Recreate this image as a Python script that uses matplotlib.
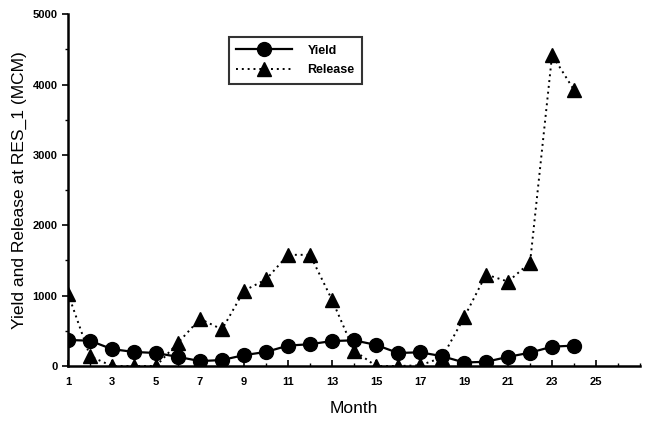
import matplotlib
matplotlib.use("Agg")
import matplotlib.pyplot as plt
from matplotlib.ticker import MultipleLocator

months = list(range(1, 25))
yield_vals = [370, 360, 240, 200, 185, 130, 70, 85, 155, 200, 290, 310,
              355, 365, 300, 185, 195, 140, 50, 60, 130, 190, 275, 290]
release_vals = [1030, 140, 0, 0, 0, 330, 670, 520, 1070, 1230, 1580, 1580,
                940, 220, 0, 0, 10, 120, 690, 1300, 1200, 1470, 4420, 3920]
xticks = list(range(1, 26, 2))
yticks = [0, 1000, 2000, 3000, 4000, 5000]

plt.rcParams['font.family'] = ['Liberation Sans', 'DejaVu Sans']

fig = plt.figure(figsize=(6.45, 4.26), dpi=100)
ax = fig.add_axes([0.1054, 0.1408, 0.887, 0.826])

ax.plot(months, yield_vals, color='black', linestyle='-', linewidth=1.6,
        marker='o', markersize=10, label='Yield', zorder=3)
ax.plot(months, release_vals, color='black', linestyle=(0, (1, 2)), linewidth=1.4,
        marker='^', markersize=10, label='Release', zorder=2)

ax.set_xlim(1, 27)
ax.set_ylim(0, 5000)
ax.set_xticks(xticks)
ax.set_yticks(yticks)
ax.xaxis.set_minor_locator(MultipleLocator(1))
ax.yaxis.set_minor_locator(MultipleLocator(500))

for s in ['top', 'right']:
    ax.spines[s].set_visible(False)
for s in ['left', 'bottom']:
    ax.spines[s].set_linewidth(1.8)

ax.tick_params(axis='both', which='major', labelsize=8, width=1.2, length=4)
ax.tick_params(axis='both', which='minor', width=1, length=2)
ax.tick_params(axis='x', which='both', direction='in')
ax.tick_params(axis='x', pad=8)
for lab in ax.get_xticklabels() + ax.get_yticklabels():
    lab.set_fontweight('bold')

ax.set_xlabel('Month', fontsize=12.5, labelpad=10)
ax.set_ylabel('Yield and Release at RES_1 (MCM)', fontsize=12.5, labelpad=4)

leg = ax.legend(loc='upper left', bbox_to_anchor=(0.27, 0.952), frameon=True,
                fancybox=False, edgecolor='black',
                prop={'weight': 'bold', 'size': 9}, handlelength=4.5,
                borderpad=0.6, labelspacing=0.6, handletextpad=1.2)
leg.get_frame().set_linewidth(1.5)

fig.savefig('out.png', dpi=100)
